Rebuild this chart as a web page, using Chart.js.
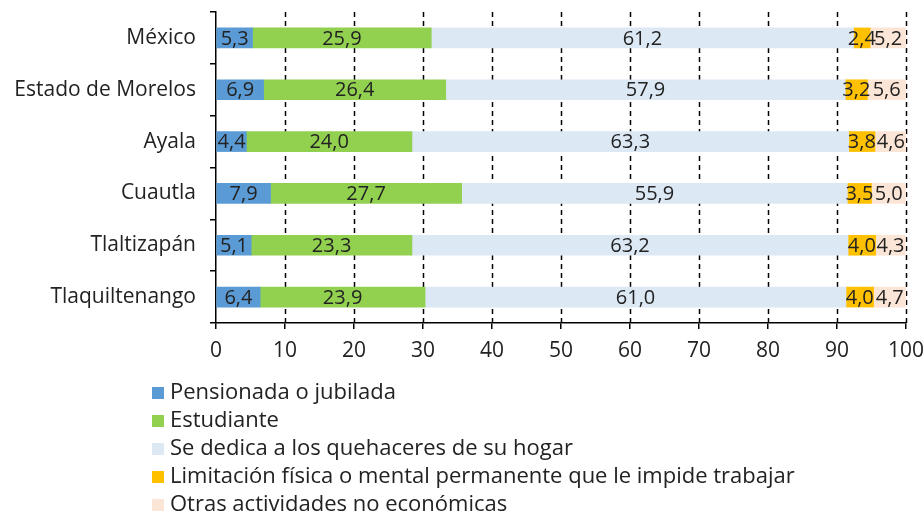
<!DOCTYPE html>
<html>
<head>
<meta charset="utf-8">
<script src="https://cdn.jsdelivr.net/npm/chart.js@4"></script>
<style>
  html, body { margin: 0; padding: 0; background: #fff; }
</style>
</head>
<body>
<canvas id="chart" width="924" height="514"></canvas>
<script>
// categories and series (percent)
const categories = ['México', 'Estado de Morelos', 'Ayala', 'Cuautla', 'Tlaltizapán', 'Tlaquiltenango'];
const pensionada = [5.3, 6.9, 4.4, 7.9, 5.1, 6.4];
const estudiante = [25.9, 26.4, 24.0, 27.7, 23.3, 23.9];
const hogar = [61.2, 57.9, 63.3, 55.9, 63.2, 61.0];
const limitacion = [2.4, 3.2, 3.8, 3.5, 4.0, 4.0];
const otras = [5.2, 5.6, 4.6, 5.0, 4.3, 4.7];
const xTicks = [0, 10, 20, 30, 40, 50, 60, 70, 80, 90, 100];

const seriesNames = [
  'Pensionada o jubilada',
  'Estudiante',
  'Se dedica a los quehaceres de su hogar',
  'Limitación física o mental permanente que le impide trabajar',
  'Otras actividades no económicas'
];
const seriesColors = ['#5b9bd5', '#92d050', '#dde8f5', '#ffc000', '#fbe5d6'];
const seriesData = [pensionada, estudiante, hogar, limitacion, otras];

const FONT = "'Open Sans', 'Noto Sans', sans-serif";
const TEXT = '#222';

const fmt = v => v.toFixed(1).replace('.', ',');

// dashed vertical grid, drawn under the bars
const dashedGrid = {
  id: 'dashedGrid',
  beforeDatasetsDraw(chart) {
    const { ctx, chartArea } = chart;
    const x = chart.scales.x;
    ctx.save();
    ctx.strokeStyle = '#000';
    ctx.lineWidth = 1.5;
    ctx.setLineDash([5, 4]);
    xTicks.forEach(v => {
      if (v === 0) return;
      const px = Math.round(x.getPixelForValue(v)) + 0.5;
      ctx.beginPath();
      ctx.moveTo(px, chartArea.top);
      ctx.lineTo(px, chartArea.bottom);
      ctx.stroke();
    });
    ctx.restore();
  }
};

// value labels centred in each segment
const segmentLabels = {
  id: 'segmentLabels',
  afterDatasetsDraw(chart) {
    const ctx = chart.ctx;
    ctx.save();
    ctx.font = '20px ' + FONT;
    ctx.fillStyle = TEXT;
    ctx.textAlign = 'center';
    ctx.textBaseline = 'middle';
    chart.data.datasets.forEach((ds, i) => {
      chart.getDatasetMeta(i).data.forEach((bar, j) => {
        const x = (bar.x + bar.base) / 2;
        ctx.fillText(fmt(ds.data[j]), x, bar.y + 1);
      });
    });
    ctx.restore();
  }
};

// vertical legend under the axis
const sideLegend = {
  id: 'sideLegend',
  afterDraw(chart) {
    const ctx = chart.ctx;
    ctx.save();
    ctx.font = '22px ' + FONT;
    ctx.textBaseline = 'middle';
    chart.data.datasets.forEach((ds, i) => {
      const y = 393 + i * 28;
      ctx.fillStyle = ds.backgroundColor;
      ctx.fillRect(152, y - 6, 12, 12);
      ctx.fillStyle = TEXT;
      ctx.fillText(ds.label, 170, y);
    });
    ctx.restore();
  }
};

new Chart(document.getElementById('chart'), {
  type: 'bar',
  data: {
    labels: categories,
    datasets: seriesData.map((d, i) => ({
      label: seriesNames[i],
      data: d,
      backgroundColor: seriesColors[i],
      borderWidth: 0,
      barThickness: 20
    }))
  },
  options: {
    indexAxis: 'y',
    responsive: false,
    animation: false,
    layout: { padding: { top: 12, right: 18, bottom: 151, left: 0 } },
    plugins: {
      legend: { display: false },
      tooltip: { enabled: false }
    },
    scales: {
      x: {
        stacked: true,
        min: 0,
        max: 100,
        afterBuildTicks: s => { s.ticks = xTicks.map(v => ({ value: v })); },
        afterFit: s => { s.height = 40; s.paddingLeft = 0; s.paddingRight = 0; },
        border: { display: true, color: '#000', width: 1.5 },
        grid: {
          drawOnChartArea: false,
          color: '#000',
          lineWidth: 1.5,
          tickLength: 6
        },
        ticks: { color: TEXT, font: { family: FONT, size: 21 }, padding: 9 }
      },
      y: {
        stacked: true,
        afterFit: s => { s.width = 216; s.paddingTop = 0; s.paddingBottom = 0; },
        border: { display: true, color: '#000', width: 1.5 },
        grid: {
          offset: true,
          drawOnChartArea: false,
          color: '#000',
          lineWidth: 1.5,
          tickLength: 6
        },
        ticks: { color: TEXT, font: { family: FONT, size: 21 }, padding: 14 }
      }
    }
  },
  plugins: [dashedGrid, segmentLabels, sideLegend]
});
</script>
</body>
</html>
